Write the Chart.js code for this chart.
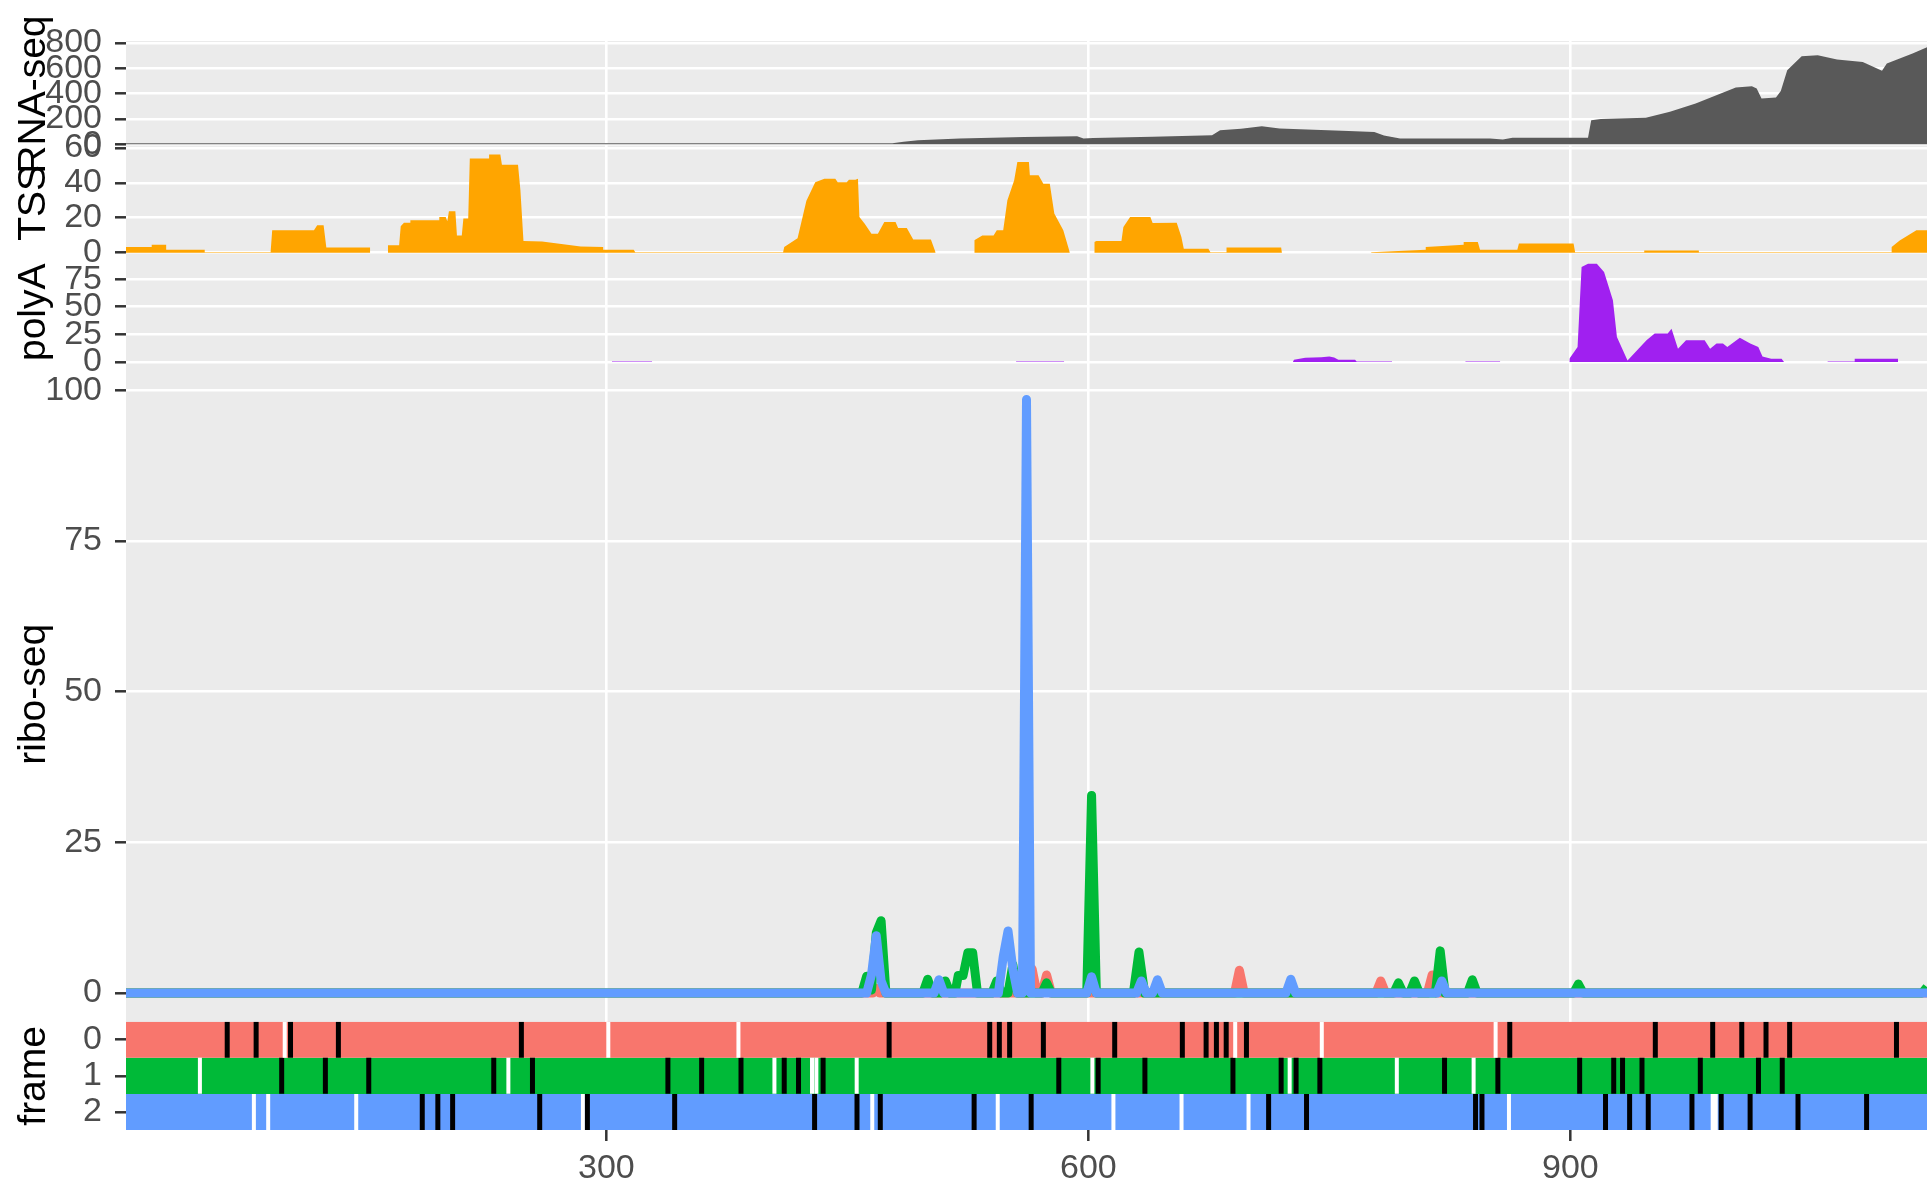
<!DOCTYPE html>
<html>
<head>
<meta charset="utf-8">
<script src="https://cdn.jsdelivr.net/npm/chart.js@4.4.1/dist/chart.umd.min.js"></script>
<style>
  html, body { margin:0; padding:0; background:#fff; }
  #wrap { width:1932px; height:1190px; }
</style>
</head>
<body>
<div id="wrap"><canvas id="chart" width="1932" height="1190"></canvas></div>
<script>
// ---- data ----
const xTicks = [300, 600, 900];
const rnaTicks = [0, 200, 400, 600, 800];
const tssTicks = [0, 20, 40, 60];
const polyTicks = [0, 25, 50, 75];
const riboTicks = [0, 25, 50, 75, 100];
const frameTicks = [0, 1, 2];
const trackTitles = ['RNA-seq', 'TSS', 'polyA', 'ribo-seq', 'frame'];

// RNA-seq coverage
const rnaPos = [1, 478, 485, 494, 520, 560, 593, 597, 603, 640, 677, 682, 695, 708, 719, 762, 778, 784, 789, 794, 850, 858,
  864, 911, 913, 919, 947, 962, 978, 1003, 1013, 1016, 1019, 1028, 1031, 1035, 1044, 1054, 1066, 1082, 1094, 1097, 1113, 1122];
const rnaCov = [8, 8, 20, 32, 45, 58, 63, 45, 50, 60, 72, 110, 122, 142, 124, 105, 97, 70, 58, 45, 45, 37,
  51, 51, 190, 200, 210, 256, 322, 448, 459, 440, 361, 369, 420, 585, 696, 704, 669, 651, 580, 638, 717, 767];

// TSS coverage (null = no data)
const tssPos = [
  1, 17, 17, 26, 26, 50, 50, 91, 92, 118, 120, 124, 125.7, 153, 153, 158,
  164, 164, 171, 172, 174, 178, 178, 196, 196, 200, 201, 202, 206, 207, 210, 211, 214, 215, 227, 227, 234, 235, 245, 246.5, 248.4, 260, 284, 298, 298, 317, 318,
  410, 410.7, 419, 424.5, 430, 435.7, 442.5, 444, 449.6, 451, 455, 456.6, 457.5, 460.8, 465, 469, 473, 480, 481.6, 487, 491, 502, 505, 517,
  529, 529, 534, 541, 543, 547, 549.6, 553.8, 555.8, 563, 563.6, 569, 572, 576, 578.8, 584.4, 588.5, 596,
  603.7, 603.7, 605, 620.6, 621.8, 626, 638.6, 640, 655, 657.9, 659.4, 674.7, 676, 686, 686, 720, 720.5, 748,
  776, 810, 810, 833.6, 833.6, 842.4, 843.8, 867, 868, 902, 903, 946, 946, 980, 980, 1099.8, 1100, 1105, 1115.4, 1122];
const tssCov = [
  3.2, 3.2, 4.6, 4.6, 1.7, 1.7, 0.3, 0.3, 12.8, 12.8, 15.7, 15.7, 2.9, 2.9, 0, null,
  0, 4.2, 4.2, 15.1, 17.2, 17.2, 18.5, 18.5, 20.4, 20.4, 18, 23.7, 23.7, 9.9, 9.9, 19.5, 19.5, 53.9, 54, 56.2, 56.2, 50.4, 50.4, 35.7, 6.7, 6.4, 3.6, 3.2, 1.7, 1.7, 0.3,
  0.3, 3.2, 8.3, 29.8, 40.3, 42.3, 42.3, 40.3, 40.3, 41.8, 41.8, 42.3, 20.4, 16.6, 10.9, 10.9, 17.6, 17.6, 14.1, 14.1, 7.6, 7.6, 0, null,
  0, 7.1, 9.9, 9.9, 12.8, 12.8, 30, 41.4, 52, 52, 44.3, 44.3, 39.5, 39.5, 22.4, 12.8, 0, null,
  0, 6.1, 6.7, 6.7, 14.7, 20.4, 20.4, 17, 17.2, 9, 2.3, 2.3, 0.3, 0.3, 2.9, 2.9, 0, null,
  0.3, 1.7, 3.2, 4.6, 6.1, 6.1, 1.7, 1.7, 5.2, 5.2, 0.3, 0.3, 1.3, 1.3, 0.3, 0.3, 3.2, 7, 12.8, 12.8];

// polyA coverage
const polyPos = [
  303.5, 328.5, 340,
  555, 585, 600,
  727.3, 728, 735, 745, 750, 753, 755.6, 766, 767, 789, 800,
  834.6, 856.4, 870,
  899.4, 899.4, 904.5, 907, 911, 916.5, 921, 926.5, 929, 935.6, 947.4, 952.5, 960.6, 963, 967, 972, 983.6, 987, 991, 995, 997.7, 1005.5, 1012, 1017, 1019.6, 1025, 1031.5, 1033, 1045,
  1060, 1077, 1077, 1104, 1104];
const polyCov = [
  0.35, 0.35, null,
  0.35, 0.35, null,
  0, 2, 3.9, 4.3, 5, 4, 2, 2, 0.35, 0.35, null,
  0.35, 0.35, null,
  0, 3, 13.6, 86, 89, 89, 81.5, 56, 22.7, 1.3, 19.7, 25.7, 25.7, 30, 12, 19.7, 19.7, 12, 16.6, 16.6, 13.6, 22, 16.6, 13.6, 5, 3, 3, 0, null,
  0.35, 0.35, 3, 3, 0];

// ribo-seq per frame
const ribo0Pos = [1, 466, 468, 470, 562, 565, 568, 571, 574, 577, 691, 694, 697, 779, 782, 785, 811, 814, 817, 1122];
const ribo0Val = [0, 0, 0.8, 0, 0, 4, 0, 0, 3, 0, 0, 3.8, 0, 0, 2, 0, 0, 3, 0, 0];
const ribo1Pos = [1, 459, 462, 465, 468, 471, 474, 497, 500, 503, 508, 511, 514, 517, 519, 522, 525, 528, 531, 540, 543, 546,
  550, 553, 556, 571, 574, 577, 599, 602, 605, 628, 631.5, 635, 790, 793, 796, 800, 803, 806, 816, 819, 822, 836, 839, 842, 902, 905, 908, 1119, 1122];
const ribo1Val = [0, 0, 2.8, 0.5, 10, 12, 0, 0, 2.3, 0, 0, 2, 0, 0, 2.9, 2.9, 6.7, 6.7, 0, 0, 2, 0,
  0, 4.7, 0, 0, 1.7, 0, 0, 32.8, 0, 0, 6.8, 0, 0, 1.7, 0, 0, 2, 0, 0, 7, 0, 0, 2.2, 0, 0, 1.5, 0, 0, 1];
const ribo2Pos = [1, 462, 465, 468, 471, 474, 504, 507, 510, 544, 547, 550, 553, 556, 559, 561.5, 564, 599, 602, 605,
  630, 633, 636, 640, 643, 646, 723, 726, 729, 817, 820, 823, 1122];
const ribo2Val = [0, 0, 3, 9.5, 2, 0, 0, 2.2, 0, 0, 6, 10.3, 4, 0, 0, 98.5, 0, 0, 2.7, 0,
  0, 2, 0, 0, 2.2, 0, 0, 2.3, 0, 0, 2, 0, 0];

// frame: stop codons (black) and start codons (white)
const stop0 = [64, 82, 103.4, 133.2, 247.1, 476, 538.6, 544.6, 551, 572, 616.4, 658.5, 673.3, 679.7, 685.8, 698.4,
  862.3, 952.9, 988.6, 1006.7, 1021.8, 1036.5, 1103];
const start0 = [99.8, 301.2, 382.2, 691.4, 745.3, 853.5];
const stop1 = [97.9, 125.1, 152.1, 229.9, 254, 338.3, 359.3, 383.8, 410.7, 419.6, 434.9, 581.6, 606.1, 635.2, 690, 720,
  729.3, 744.1, 821.7, 854.9, 905.8, 927, 932.5, 944.6, 980.9, 1017.1, 1031.9];
const start1 = [47, 239, 404.6, 428, 430.7, 455.8, 602.5, 725.3, 792, 839.8];
const stop2 = [185.4, 195.1, 204.3, 258.5, 288.2, 342.5, 429.6, 456, 470.5, 528.9, 564.4, 712.2, 735.8, 841, 845,
  921.9, 936.9, 948.5, 975.7, 993.9, 1011.9, 1041.7, 1084.4];
const start2 = [80.6, 89.5, 144.3, 285.4, 465.5, 543.6, 615.6, 658, 699.7, 861.8, 988.6, 990.5];

// ---- 스타일 ----
const FONT = "'Liberation Sans', Arial, sans-serif";
const frameCol = ['#F8766D', '#00BA38', '#619CFF'];
const pts = (xs, ys) => xs.map((x, i) => ({x, y: ys[i]}));
const gridOpts = {color: '#FFFFFF', lineWidth: 2.6, tickColor: '#333333', tickWidth: 2.5, tickLength: 11};

function area(pos, cov, col, axis) {
  return { data: pts(pos, cov), yAxisID: axis, fill: 'origin', backgroundColor: col,
    borderColor: 'rgba(0,0,0,0)', borderWidth: 0, pointRadius: 0, spanGaps: false, order: 5 };
}
function riboLine(pos, val, col, order) {
  return { data: pts(pos, val), yAxisID: 'ribo', fill: false, borderColor: col, borderWidth: 9,
    borderJoinStyle: 'round', pointRadius: 0, order };
}
function band(row) {
  return { data: [{x: 1, y: row + 0.5}, {x: 1122, y: row + 0.5}], yAxisID: 'frame',
    fill: {value: row - 0.5}, backgroundColor: frameCol[row], borderColor: 'rgba(0,0,0,0)', borderWidth: 0,
    pointRadius: 0, order: 1 };
}
function marks(list, row, col, w) {
  return { data: list.map(x => ({x, y: row})), yAxisID: 'frame', showLine: false,
    pointStyle: 'line', pointRotation: 90, pointRadius: 18, pointBorderWidth: w,
    pointBorderColor: col, pointBackgroundColor: col, order: 0 };
}

function yAxis(min, max, ticks, weight, extra) {
  return Object.assign({
    type: 'linear', position: 'left', stack: 'tracks', stackWeight: weight, min, max,
    border: {display: false},
    grid: gridOpts,
    ticks: {autoSkip: false, color: '#4D4D4D', padding: 13, font: {family: FONT, size: 34}},
    afterBuildTicks: s => { s.ticks = ticks.map(v => ({value: v})); },
    afterFit: s => { s.width = 126; }
  }, extra || {});
}

// 회색 패널 배경
const panelBg = {
  id: 'panelBg',
  beforeDraw(chart) {
    const {ctx, chartArea: a} = chart;
    ctx.save();
    ctx.fillStyle = '#EBEBEB';
    ctx.fillRect(a.left, a.top, a.right - a.left, a.bottom - a.top);
    ctx.restore();
  }
};
// 트랙 제목 (패널보다 길어도 줄이지 않음)
const trackTitle = {
  id: 'trackTitle',
  afterDraw(chart) {
    const ids = ['rna', 'tss', 'poly', 'ribo', 'frame'];
    const ctx = chart.ctx;
    ids.forEach((id, i) => {
      const s = chart.scales[id];
      ctx.save();
      ctx.translate(45, (s.top + s.bottom) / 2);
      ctx.rotate(-Math.PI / 2);
      ctx.font = `39px ${FONT}`;
      ctx.fillStyle = '#000000';
      ctx.textAlign = 'center';
      ctx.textBaseline = 'alphabetic';
      ctx.fillText(trackTitles[i], 0, 0);
      ctx.restore();
    });
  }
};

new Chart(document.getElementById('chart').getContext('2d'), {
  type: 'line',
  data: {
    datasets: [
      marks(stop0, 0, '#000000', 5), marks(start0, 0, '#FFFFFF', 4),
      marks(stop1, 1, '#000000', 5), marks(start1, 1, '#FFFFFF', 4),
      marks(stop2, 2, '#000000', 5), marks(start2, 2, '#FFFFFF', 4),
      band(0), band(1), band(2),
      riboLine(ribo2Pos, ribo2Val, frameCol[2], 2),
      riboLine(ribo1Pos, ribo1Val, frameCol[1], 3),
      riboLine(ribo0Pos, ribo0Val, frameCol[0], 4),
      area(polyPos, polyCov, '#A020F0', 'poly'),
      area(tssPos, tssCov, '#FFA500', 'tss'),
      area(rnaPos, rnaCov, '#595959', 'rna')
    ]
  },
  options: {
    responsive: false,
    animation: false,
    events: [],
    layout: {autoPadding: false, padding: {top: 41, right: 5, left: 0, bottom: 0}},
    plugins: {legend: {display: false}, tooltip: {enabled: false}},
    scales: {
      x: {
        type: 'linear', position: 'bottom', min: 1, max: 1122,
        border: {display: false},
        grid: gridOpts,
        ticks: {autoSkip: false, maxRotation: 0, color: '#4D4D4D', padding: 7, font: {family: FONT, size: 34}},
        afterBuildTicks: s => { s.ticks = xTicks.map(v => ({value: v})); },
        afterFit: s => { s.height = 60; }
      },
      // 아래에서 위 순서로 정의 (왼쪽 스택은 뒤에 정의된 것이 위로 감)
      frame: yAxis(-0.5, 2.5, frameTicks, 108.3, {reverse: true,
        grid: Object.assign({}, gridOpts, {drawOnChartArea: false})}),
      ribo: yAxis(-4.76, 103.9, riboTicks, 655),
      poly: yAxis(-4.5, 94.5, polyTicks, 109.3),
      tss: yAxis(-2.85, 59.85, tssTicks, 109.5),
      rna: yAxis(-31, 816, rnaTicks, 107.2)
    }
  },
  plugins: [panelBg, trackTitle]
});
</script>
</body>
</html>
